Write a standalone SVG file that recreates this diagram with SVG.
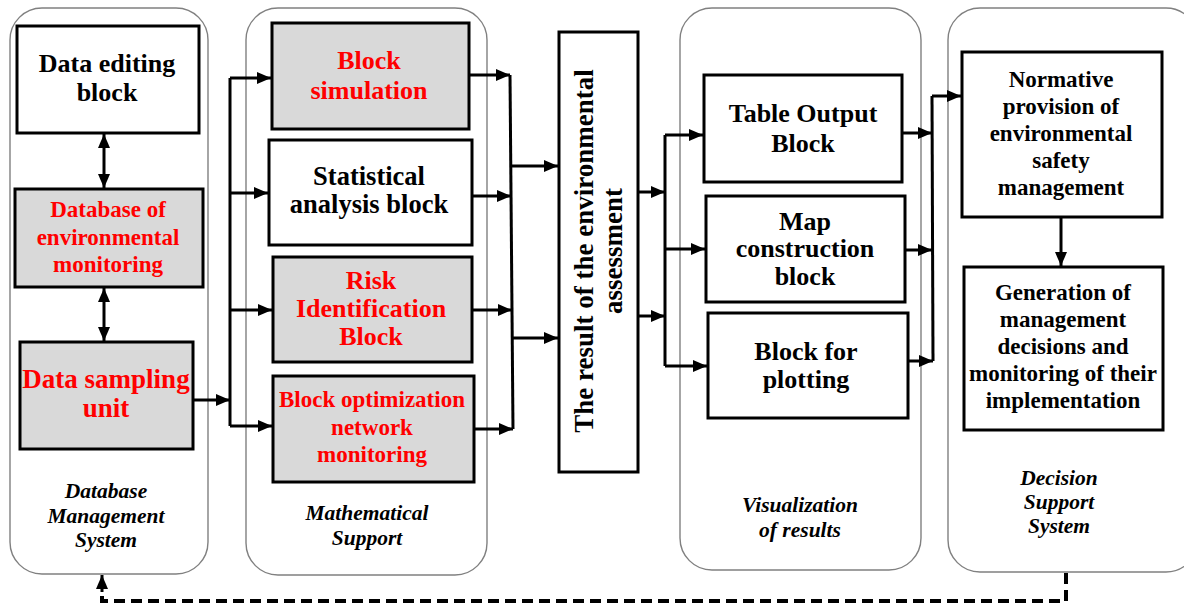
<svg xmlns="http://www.w3.org/2000/svg" width="1184" height="606" viewBox="0 0 1184 606">
<style>
  .cont { fill: #ffffff; stroke: #808080; stroke-width: 1.4; }
  .box { fill: #ffffff; stroke: #000000; stroke-width: 3; }
  .gbox { fill: #d9d9d9; stroke: #000000; stroke-width: 3; }
  .t { font-family: "Liberation Serif", "Times New Roman", serif; font-weight: bold; text-anchor: middle; fill: #000000; }
  .r { fill: #ff0000; }
  .lab { font-family: "Liberation Serif", "Times New Roman", serif; font-weight: bold; font-style: italic; font-size: 21.5px; text-anchor: middle; fill: #000000; }
  .ln { fill: none; stroke: #000000; stroke-width: 3; }
  .dash { fill: none; stroke: #000000; stroke-width: 4; stroke-dasharray: 11 6; }
</style>
<defs>
  <marker id="ah" markerWidth="14" markerHeight="12" refX="14" refY="6" orient="auto-start-reverse" markerUnits="userSpaceOnUse">
    <path d="M0,0 L14,6 L0,12 z" fill="#000000"/>
  </marker>
</defs>

<g id="containers">
  <rect id="dbms" class="cont" x="10" y="8" width="198" height="566" rx="32"/>
  <rect id="math" class="cont" x="246" y="8" width="241" height="567" rx="32"/>
  <rect id="vis" class="cont" x="680" y="8" width="241" height="562" rx="32"/>
  <rect id="dss" class="cont" x="948" y="8" width="250" height="564" rx="32"/>
</g>

<g id="container-labels">
  <text class="lab" x="106" y="498">Database</text>
  <text class="lab" x="106" y="523">Management</text>
  <text class="lab" x="106" y="547">System</text>
  <text class="lab" x="367" y="520">Mathematical</text>
  <text class="lab" x="367" y="545">Support</text>
  <text class="lab" x="800" y="512">Visualization</text>
  <text class="lab" x="800" y="537">of results</text>
  <text class="lab" x="1059" y="485">Decision</text>
  <text class="lab" x="1059" y="509">Support</text>
  <text class="lab" x="1059" y="533">System</text>
</g>

<g id="n-data-editing">
  <rect class="box" x="17" y="26" width="182" height="107"/>
  <text class="t" x="107" y="72" font-size="26">Data editing</text>
  <text class="t" x="107" y="101" font-size="26">block</text>
</g>
<g id="n-database">
  <rect class="gbox" x="15" y="189" width="188" height="98"/>
  <text class="t r" x="108" y="217" font-size="23">Database of</text>
  <text class="t r" x="108" y="245" font-size="23">environmental</text>
  <text class="t r" x="108" y="272" font-size="23">monitoring</text>
</g>
<g id="n-sampling">
  <rect class="gbox" x="20" y="342" width="173" height="107"/>
  <text class="t r" x="106" y="388" font-size="27">Data sampling</text>
  <text class="t r" x="106" y="417" font-size="27">unit</text>
</g>

<g id="n-block-sim">
  <rect class="gbox" x="272" y="23" width="197" height="106"/>
  <text class="t r" x="369" y="69" font-size="26">Block</text>
  <text class="t r" x="369" y="99" font-size="26">simulation</text>
</g>
<g id="n-stat">
  <rect class="box" x="269" y="140" width="203" height="105"/>
  <text class="t" x="369" y="185" font-size="26.5">Statistical</text>
  <text class="t" x="369" y="213" font-size="26.5">analysis block</text>
</g>
<g id="n-risk">
  <rect class="gbox" x="273" y="257" width="199" height="105"/>
  <text class="t r" x="371" y="289" font-size="26">Risk</text>
  <text class="t r" x="371" y="317" font-size="26">Identification</text>
  <text class="t r" x="371" y="345" font-size="26">Block</text>
</g>
<g id="n-opt">
  <rect class="gbox" x="273" y="376" width="201" height="106"/>
  <text class="t r" x="372" y="407" font-size="23">Block optimization</text>
  <text class="t r" x="372" y="435" font-size="23">network</text>
  <text class="t r" x="372" y="462" font-size="23">monitoring</text>
</g>

<g id="n-result">
  <rect class="box" x="559" y="32" width="79" height="440"/>
  <text class="t" font-size="27" transform="translate(593,251) rotate(-90)">The result of the environmental</text>
  <text class="t" font-size="27" transform="translate(622,251) rotate(-90)">assessment</text>
</g>

<g id="n-table">
  <rect class="box" x="704" y="75" width="198" height="107"/>
  <text class="t" x="803" y="122" font-size="26">Table Output</text>
  <text class="t" x="803" y="152" font-size="26">Block</text>
</g>
<g id="n-map">
  <rect class="box" x="706" y="196" width="199" height="106"/>
  <text class="t" x="805" y="230" font-size="26">Map</text>
  <text class="t" x="805" y="257" font-size="26">construction</text>
  <text class="t" x="805" y="285" font-size="26">block</text>
</g>
<g id="n-plot">
  <rect class="box" x="708" y="313" width="200" height="105"/>
  <text class="t" x="806" y="360" font-size="26">Block for</text>
  <text class="t" x="806" y="388" font-size="26">plotting</text>
</g>

<g id="n-normative">
  <rect class="box" x="962" y="52" width="200" height="165"/>
  <text class="t" x="1061" y="87" font-size="23">Normative</text>
  <text class="t" x="1061" y="114" font-size="23">provision of</text>
  <text class="t" x="1061" y="141" font-size="23">environmental</text>
  <text class="t" x="1061" y="168" font-size="23">safety</text>
  <text class="t" x="1061" y="195" font-size="23">management</text>
</g>
<g id="n-generation">
  <rect class="box" x="964" y="267" width="199" height="163"/>
  <text class="t" x="1063" y="300" font-size="23">Generation of</text>
  <text class="t" x="1063" y="327" font-size="23">management</text>
  <text class="t" x="1063" y="354" font-size="23">decisions and</text>
  <text class="t" x="1063" y="381" font-size="23">monitoring of their</text>
  <text class="t" x="1063" y="408" font-size="23">implementation</text>
</g>

<g id="connectors">
  <line class="ln" x1="104" y1="134" x2="104" y2="188" marker-start="url(#ah)" marker-end="url(#ah)"/>
  <line class="ln" x1="104" y1="288" x2="104" y2="341" marker-start="url(#ah)" marker-end="url(#ah)"/>
  <line class="ln" x1="193" y1="400" x2="230" y2="400" marker-end="url(#ah)"/>
  <polyline class="ln" points="230,78 230,426"/>
  <line class="ln" x1="230" y1="78" x2="271" y2="78" marker-end="url(#ah)"/>
  <line class="ln" x1="230" y1="193" x2="268" y2="193" marker-end="url(#ah)"/>
  <line class="ln" x1="230" y1="310" x2="272" y2="310" marker-end="url(#ah)"/>
  <line class="ln" x1="230" y1="426" x2="272" y2="426" marker-end="url(#ah)"/>
  <line class="ln" x1="469" y1="75" x2="510" y2="75" marker-end="url(#ah)"/>
  <line class="ln" x1="472" y1="196" x2="511" y2="196" marker-end="url(#ah)"/>
  <line class="ln" x1="472" y1="310" x2="512" y2="310" marker-end="url(#ah)"/>
  <line class="ln" x1="474" y1="429" x2="513" y2="429" marker-end="url(#ah)"/>
  <polyline class="ln" points="510,75 513,429"/>
  <line class="ln" x1="511" y1="166" x2="558" y2="166" marker-end="url(#ah)"/>
  <line class="ln" x1="512" y1="338" x2="558" y2="338" marker-end="url(#ah)"/>
  <line class="ln" x1="638" y1="192" x2="665" y2="192" marker-end="url(#ah)"/>
  <line class="ln" x1="638" y1="316" x2="665" y2="316" marker-end="url(#ah)"/>
  <polyline class="ln" points="665,135 665,366"/>
  <line class="ln" x1="665" y1="135" x2="703" y2="135" marker-end="url(#ah)"/>
  <line class="ln" x1="665" y1="249" x2="705" y2="249" marker-end="url(#ah)"/>
  <line class="ln" x1="665" y1="366" x2="707" y2="366" marker-end="url(#ah)"/>
  <line class="ln" x1="902" y1="133" x2="932" y2="133" marker-end="url(#ah)"/>
  <line class="ln" x1="905" y1="250" x2="932" y2="250" marker-end="url(#ah)"/>
  <line class="ln" x1="908" y1="361" x2="933" y2="361" marker-end="url(#ah)"/>
  <polyline class="ln" points="933,361 932,96"/>
  <line class="ln" x1="932" y1="96" x2="961" y2="96" marker-end="url(#ah)"/>
  <line class="ln" x1="1061" y1="217" x2="1061" y2="266" marker-end="url(#ah)"/>
  <polyline class="dash" points="1066,573 1066,601 102,601 102,590"/>
  <line class="ln" x1="102" y1="592" x2="102" y2="575" marker-end="url(#ah)"/>
</g>
</svg>
